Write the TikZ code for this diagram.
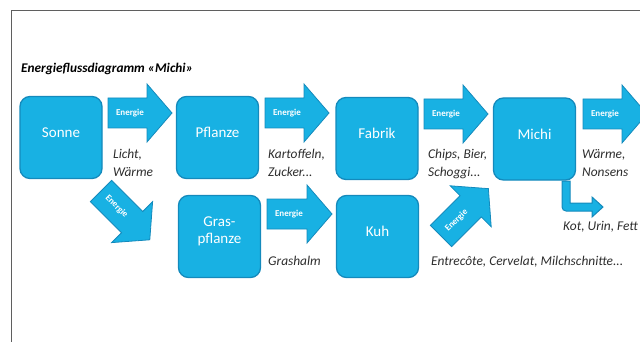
\documentclass[tikz,border=0pt]{standalone}
\usepackage{fontspec}
\setmainfont{Carlito}
\usepackage{tikz}
\usetikzlibrary{positioning}

\definecolor{flowfill}{RGB}{24,177,227}
\definecolor{flowline}{RGB}{20,138,188}
\definecolor{labelgray}{RGB}{45,45,45}
\definecolor{framegray}{RGB}{95,95,95}

\tikzset{
	stage/.style={draw=flowline, fill=flowfill, line width=1.3pt, rounded corners=10pt,
		minimum width=82pt, minimum height=82pt, inner sep=0pt},
	stagetext/.style={text=white, font=\fontsize{15}{17}\selectfont, align=center, yshift=5pt},
	arrowshape/.style={draw=flowline, fill=flowfill, line width=0.8pt, line join=miter},
	energytext/.style={text=white, font=\bfseries\fontsize{9}{10}\selectfont, transform shape},
	note/.style={text=labelgray, font=\itshape\fontsize{13.4}{18}\selectfont, align=left, anchor=base west, inner sep=0pt},
	pics/flow/.style={code={
		\path[arrowshape] (0,-15) -- ({#1-25},-15) -- ({#1-25},-29) -- (#1,0) -- ({#1-25},29) -- ({#1-25},15) -- (0,15) -- cycle;
		\node[energytext] at (22,0) {Energie};
	}},
	pics/flow/.default=64
}

\begin{document}
\begin{tikzpicture}[x=1pt, y=-1pt]
	\useasboundingbox (0,0) rectangle (640,342);
	% frame
	\draw[framegray, line width=1pt] (11,342) -- (11,11) -- (640,11);

	\node[anchor=base west, inner sep=0pt, font=\bfseries\itshape\fontsize{13.3}{15}\selectfont] (title) at (21,73) {Energieflussdiagramm «Michi»};

	% stages
	\node[stage, label={[stagetext]center:Sonne}] (sonne) at (61,137.5) {};
	\node[stage, label={[stagetext]center:Pflanze}] (pflanze) at (217.5,137.5) {};
	\node[stage, label={[stagetext]center:Fabrik}] (fabrik) at (377,138.5) {};
	\node[stage, label={[stagetext]center:Michi}] (michi) at (534.5,139) {};
	\node[stage, label={[stagetext]center:Gras-\\pflanze}] (gras) at (219.5,236.5) {};
	\node[stage, label={[stagetext]center:Kuh}] (kuh) at (377.5,236.5) {};

	% energy arrows
	\pic at (108,113) {flow};
	\pic at (265,113) {flow};
	\pic at (424,114) {flow};
	\pic at (583,114) {flow};
	\pic at (267,214) {flow=65};
	\pic[rotate=-45] at (101,191) {flow=69};
	\pic[rotate=45] at (441,236) {flow=67};

	% waste arrow below Michi
	\path[arrowshape, line width=1pt] (562,181) [rounded corners=4pt] -- (562,211) [sharp corners] -- (592,211) -- (592,217) -- (603,207) -- (592,197) -- (592,203) -- (570,203) -- (570,181) -- cycle;

	% texts (placed at the baseline of the last line)
	\node[note] (licht) at (113,176) {Licht,\\Wärme};
	\node[note] (kartoffeln) at (268,176) {Kartoffeln,\\Zucker...};
	\node[note] (chips) at (428,177) {Chips, Bier,\\Schoggi...};
	\node[note] (waerme) at (582,177) {Wärme,\\Nonsens};
	\node[note] (kot) at (563,230) {Kot, Urin, Fett};
	\node[note] (grashalm) at (268,265) {Grashalm};
	\node[note] (entrecote) at (431,265) {Entrecôte, Cervelat, Milchschnitte...};
\end{tikzpicture}
\end{document}
